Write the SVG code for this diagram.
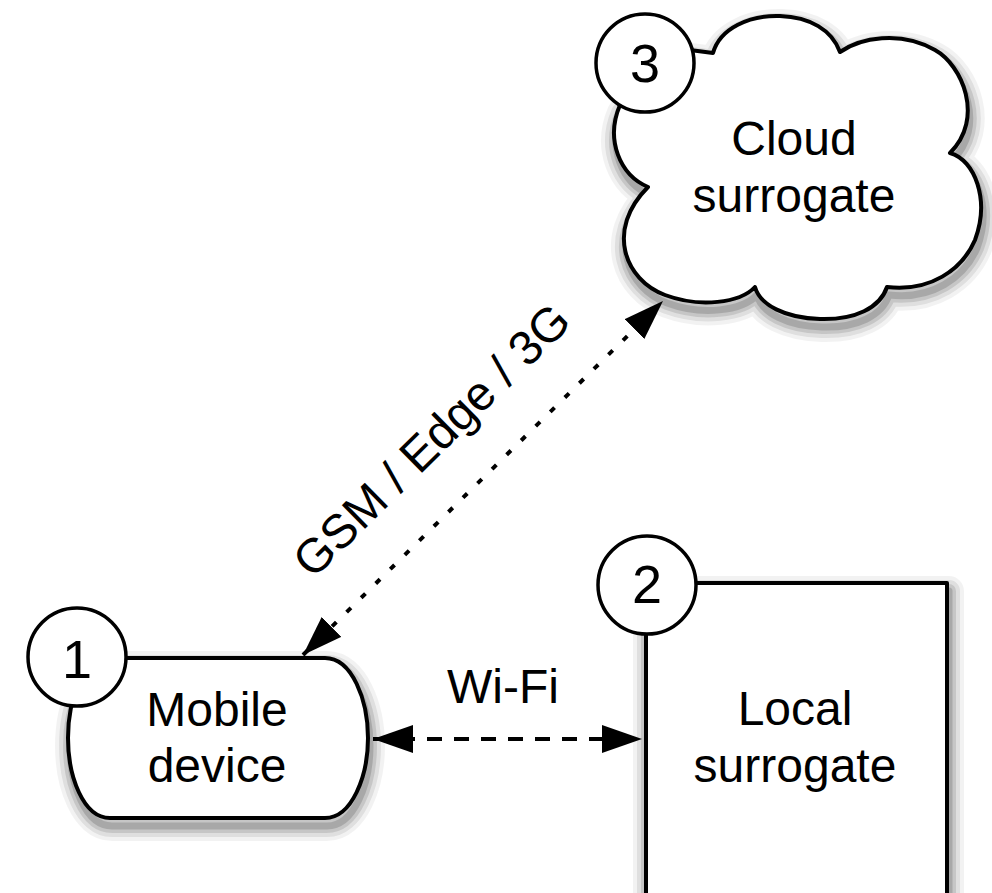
<svg xmlns="http://www.w3.org/2000/svg" width="992" height="893" viewBox="0 0 992 893">
  <defs>
    <marker id="arrow" viewBox="0 0 40 28" refX="40" refY="14" markerWidth="40" markerHeight="28" markerUnits="userSpaceOnUse" orient="auto-start-reverse">
      <path d="M0 0 L40 14 L0 28 Z" fill="#000"/>
    </marker>
    <path id="cloudPath" d="M 690 50 L 713 53 C 720 28, 750 15, 780 16 C 810 17, 832 30, 840 52 C 860 38, 900 30, 935 50 C 962 65, 985 118, 950 153 C 975 160, 990 200, 975 240 C 962 270, 930 292, 887 287 C 880 308, 855 320, 820 319 C 785 318, 760 305, 755 287 C 740 303, 700 308, 665 295 C 625 280, 605 230, 648 187 C 620 175, 605 140, 620 105 L 660 60 Z"/>
    <rect id="rectPath" x="646" y="583" width="301" height="380"/>
    <path id="mobilePath" d="M 110 658 L 325 658 C 352 658, 368 700, 368 738 C 368 776, 352 818, 325 818 L 110 818 C 83 818, 68 776, 68 738 C 68 700, 83 658, 110 658 Z"/>
  </defs>
  <style>
    .shape { fill: #fff; stroke: #000; stroke-width: 4; stroke-linejoin: round; }
    .badge { fill: #fff; stroke: #000; stroke-width: 3.5; }
    .label { font-family: "Liberation Sans", Arial, sans-serif; font-size: 48px; fill: #000; text-anchor: middle; }
    .num { font-family: "Liberation Sans", Arial, sans-serif; font-size: 54px; fill: #000; text-anchor: middle; }
    .conn { fill: none; stroke: #000; stroke-width: 4; }
    .s1 { fill: none; stroke: #000; stroke-opacity: 0.05; stroke-width: 30; stroke-linejoin: round; }
    .s2 { fill: none; stroke: #000; stroke-opacity: 0.08; stroke-width: 22; stroke-linejoin: round; }
    .s3 { fill: none; stroke: #000; stroke-opacity: 0.11; stroke-width: 14; stroke-linejoin: round; }
    .s4 { fill: none; stroke: #000; stroke-opacity: 0.15; stroke-width: 7; stroke-linejoin: round; }
  </style>
  <rect width="992" height="893" fill="#fff"/>

  <g id="cloud-surrogate">
    <g transform="translate(2,8)">
      <use href="#cloudPath" class="s1"/>
      <use href="#cloudPath" class="s2"/>
      <use href="#cloudPath" class="s3"/>
      <use href="#cloudPath" class="s4"/>
    </g>
    <use href="#cloudPath" class="shape"/>
    <text class="label" x="794" y="155">Cloud</text>
    <text class="label" x="794" y="212">surrogate</text>
    <circle class="badge" cx="645" cy="63" r="49"/>
    <text class="num" x="645" y="82">3</text>
  </g>

  <g id="local-surrogate">
    <g transform="translate(2,8)">
      <use href="#rectPath" class="s1"/>
      <use href="#rectPath" class="s2"/>
      <use href="#rectPath" class="s3"/>
      <use href="#rectPath" class="s4"/>
    </g>
    <use href="#rectPath" class="shape"/>
    <text class="label" x="795" y="725">Local</text>
    <text class="label" x="795" y="782">surrogate</text>
    <circle class="badge" cx="647" cy="585" r="49"/>
    <text class="num" x="647" y="603">2</text>
  </g>

  <g id="mobile-device">
    <g transform="translate(2,8)">
      <use href="#mobilePath" class="s1"/>
      <use href="#mobilePath" class="s2"/>
      <use href="#mobilePath" class="s3"/>
      <use href="#mobilePath" class="s4"/>
    </g>
    <use href="#mobilePath" class="shape"/>
    <text class="label" x="217" y="726">Mobile</text>
    <text class="label" x="217" y="782">device</text>
    <circle class="badge" cx="77" cy="657" r="49"/>
    <text class="num" x="77" y="678">1</text>
  </g>

  <g id="connectors">
    <line class="conn" x1="373" y1="739" x2="642" y2="739" stroke-dasharray="15 12" marker-start="url(#arrow)" marker-end="url(#arrow)"/>
    <text class="label" x="503" y="703">Wi-Fi</text>
    <line class="conn" x1="303" y1="655" x2="663" y2="301" stroke-dasharray="6 14.4" marker-start="url(#arrow)" marker-end="url(#arrow)"/>
    <text class="label" transform="translate(443,452) rotate(-44.5)" x="0" y="0">GSM / Edge / 3G</text>
  </g>
</svg>
